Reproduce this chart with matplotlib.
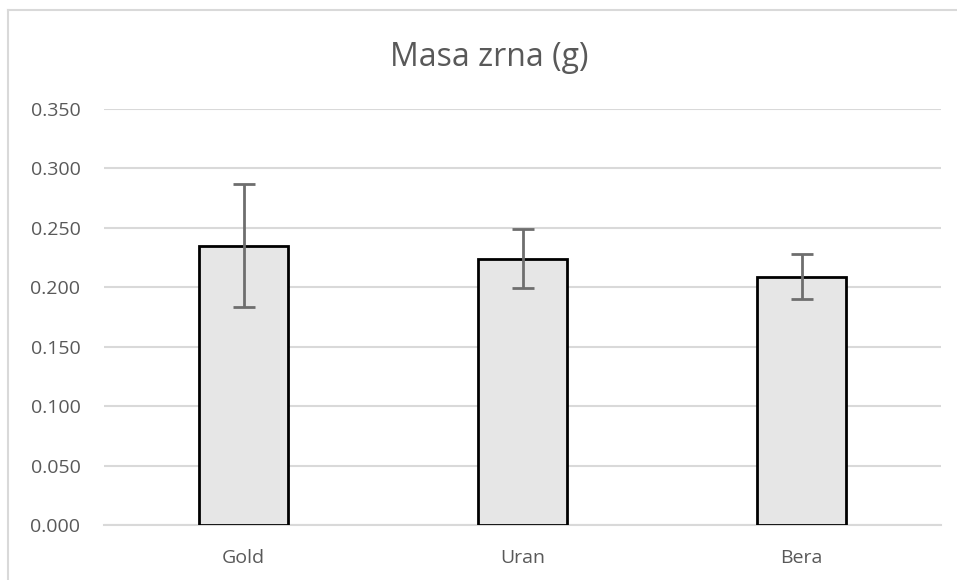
import matplotlib.pyplot as plt
from matplotlib.lines import Line2D

categories = ['Gold', 'Uran', 'Bera']
means = [0.235, 0.224, 0.209]
errors = [0.052, 0.025, 0.019]
yticks = [0.0, 0.05, 0.10, 0.15, 0.20, 0.25, 0.30, 0.35]

plt.rcParams['font.family'] = ['Open Sans', 'DejaVu Sans']

fig = plt.figure(figsize=(9.57, 5.8), dpi=100)
ax = fig.add_axes([104 / 957, 1 - 525 / 580, (941 - 104) / 957, (525 - 109) / 580])

x = range(len(categories))
ax.bar(x, means, width=0.32, color='#e6e6e6', edgecolor='black', linewidth=2, zorder=3)
ax.errorbar(x, means, yerr=errors, fmt='none', ecolor='#6e6e6e', elinewidth=2,
            capsize=8, capthick=2, zorder=4)

ax.set_xlim(-0.5, len(categories) - 0.5)
ax.set_ylim(0, 0.35)
ax.set_yticks(yticks)
ax.set_yticklabels([f'{v:.3f}' for v in yticks])
ax.set_xticks(list(x))
ax.set_xticklabels(categories)
ax.tick_params(axis='both', length=0, labelsize=14, colors='#595959')
ax.tick_params(axis='x', pad=17)
ax.tick_params(axis='y', pad=17)
ax.grid(axis='y', color='#d9d9d9', linewidth=1.5, zorder=0)
for side in ['top', 'right', 'left']:
    ax.spines[side].set_visible(False)
ax.spines['bottom'].set_color('#d9d9d9')
ax.spines['bottom'].set_linewidth(1.5)

fig.text(489 / 957, 1 - 58 / 580, 'Masa zrna (g)', ha='center', va='center',
         fontsize=23, color='#595959')

# outer chart frame (top and left edges visible)
fig.add_artist(Line2D([8 / 957, 1], [1 - 10 / 580, 1 - 10 / 580], transform=fig.transFigure,
                      color='#d9d9d9', linewidth=1.5))
fig.add_artist(Line2D([8 / 957, 8 / 957], [0, 1 - 10 / 580], transform=fig.transFigure,
                      color='#d9d9d9', linewidth=1.5))

fig.savefig('out.png', dpi=100)
